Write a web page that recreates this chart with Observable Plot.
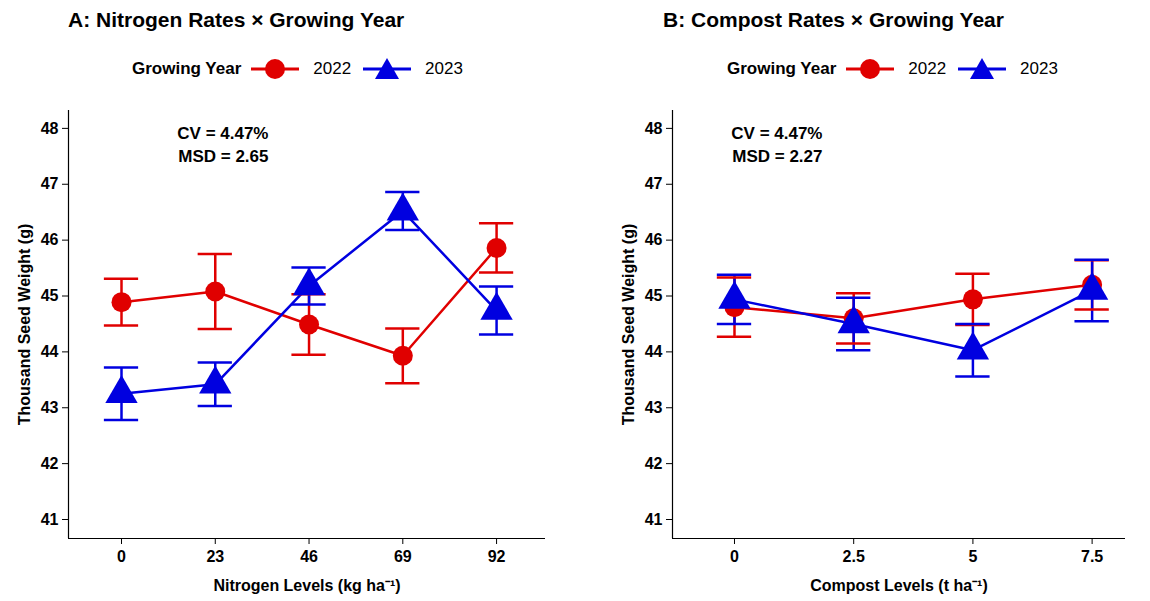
<!DOCTYPE html>
<html><head><meta charset="utf-8">
<script src="https://cdn.jsdelivr.net/npm/d3@7"></script>
<script src="https://cdn.jsdelivr.net/npm/@observablehq/plot@0.6"></script>
<style>
body{margin:0;background:#fff;font-family:"Liberation Sans",Arial,sans-serif;}
#wrap{display:flex;width:1150px;}
.panel{position:relative;width:575px;height:601px;}
.title{position:absolute;top:8px;font-size:21px;font-weight:bold;color:#000;white-space:nowrap;}
.legend{position:absolute;top:58px;font-size:17px;display:flex;align-items:center;gap:6px;white-space:nowrap;}
.legend b{margin-right:4px;font-weight:bold;}
.chart{position:absolute;top:95px;left:0;}
</style></head><body>
<div id="wrap">
  <div class="panel" id="pA"><div class="title" style="left:68px">A: Nitrogen Rates × Growing Year</div><div class="legend" style="left:132px"></div><div class="chart"></div></div>
  <div class="panel" id="pB"><div class="title" style="left:88px">B: Compost Rates × Growing Year</div><div class="legend" style="left:152px"></div><div class="chart"></div></div>
</div>
<script>
const years = ["2022", "2023"];
const colors = ["#e00000", "#0000e0"];

const nitrogen = [0, 23, 46, 69, 92];
const nMean2022 = [44.89, 45.08, 44.49, 43.93, 45.86];
const nErr2022 = [0.42, 0.67, 0.54, 0.49, 0.44];
const nMean2023 = [43.25, 43.42, 45.18, 46.52, 44.74];
const nErr2023 = [0.47, 0.39, 0.33, 0.34, 0.43];

const compost = [0, 2.5, 5, 7.5];
const cMean2022 = [44.80, 44.60, 44.94, 45.20];
const cErr2022 = [0.53, 0.45, 0.46, 0.44];
const cMean2023 = [44.94, 44.50, 44.03, 45.10];
const cErr2023 = [0.44, 0.47, 0.47, 0.55];

const yTicks = [41, 42, 43, 44, 45, 46, 47, 48];

function rows(levels, m22, e22, m23, e23) {
  return levels.flatMap((lv, i) => [
    {x: lv, year: "2022", mean: m22[i], se: e22[i]},
    {x: lv, year: "2023", mean: m23[i], se: e23[i]}
  ]);
}

function legend(el) {
  el.innerHTML = "<b>Growing Year</b>" + years.map((y, i) => {
    const sym = i === 0
      ? `<circle cx="24" cy="11" r="10" fill="${colors[i]}"/>`
      : `<polygon points="24,0 36,21 12,21" fill="${colors[i]}"/>`;
    return `<svg width="48" height="22"><line x1="0" x2="48" y1="11" y2="11" stroke="${colors[i]}" stroke-width="3"/>${sym}</svg><span style="margin:0 6px 0 8px">${y}</span>`;
  }).join("");
}

function panel(sel, data, opts) {
  const cap = opts.cap;
  const chart = Plot.plot({
    width: 575, height: 506,
    marginLeft: opts.ml, marginRight: opts.mr, marginTop: 15, marginBottom: 63,
    style: {fontFamily: "Liberation Sans, Arial, sans-serif", fontSize: "16px", fontWeight: "bold", color: "#000"},
    x: {domain: opts.xdom, ticks: opts.levels, tickFormat: d => String(d), tickSize: 6, tickPadding: 6, label: opts.xlabel, labelArrow: "none", labelAnchor: "center", labelOffset: 52},
    y: {domain: [40.66, 48.32], ticks: yTicks, tickSize: 6, tickPadding: 4, label: "Thousand Seed Weight (g)", labelArrow: "none", labelAnchor: "center", labelOffset: 50},
    color: {domain: years, range: colors},
    marks: [
      Plot.ruleY([40.66], {stroke: "#000", strokeWidth: 1.2}),
      Plot.ruleX([opts.xdom[0]], {stroke: "#000", strokeWidth: 1.2}),
      Plot.line(data, {x: "x", y: "mean", stroke: "year", z: "year", strokeWidth: 2.5}),
      Plot.ruleX(data, {x: "x", y1: d => d.mean - d.se, y2: d => d.mean + d.se, stroke: "year", strokeWidth: 2.5}),
      Plot.ruleY(data, {y: d => d.mean - d.se, x1: d => d.x - cap, x2: d => d.x + cap, stroke: "year", strokeWidth: 2.5}),
      Plot.ruleY(data, {y: d => d.mean + d.se, x1: d => d.x - cap, x2: d => d.x + cap, stroke: "year", strokeWidth: 2.5}),
      Plot.dot(data.filter(d => d.year === "2022"), {x: "x", y: "mean", r: 10, fill: colors[0], symbol: "circle"}),
      Plot.dot(data.filter(d => d.year === "2023"), {x: "x", y: "mean", r: 12, fill: colors[1], symbol: "triangle"}),
      Plot.text([opts.note], {frameAnchor: "top-left", dx: opts.ndx, dy: 12, text: d => d, fontSize: 17, fontWeight: "bold", lineHeight: 1.35, textAnchor: "end"})
    ]
  });
  d3.select(sel + " .chart").append(() => chart);
  legend(document.querySelector(sel + " .legend"));
}

panel("#pA", rows(nitrogen, nMean2022, nErr2022, nMean2023, nErr2023),
  {levels: nitrogen, xdom: [-13, 104], cap: 4.2, ml: 68, mr: 30, xlabel: "Nitrogen Levels (kg ha⁻¹)", note: "CV = 4.47%\nMSD = 2.65", ndx: 200});
panel("#pB", rows(compost, cMean2022, cErr2022, cMean2023, cErr2023),
  {levels: compost, xdom: [-1.3, 8.2], cap: 0.36, ml: 97, mr: 25, xlabel: "Compost Levels (t ha⁻¹)", note: "CV = 4.47%\nMSD = 2.27", ndx: 150});
</script>
</body></html>
